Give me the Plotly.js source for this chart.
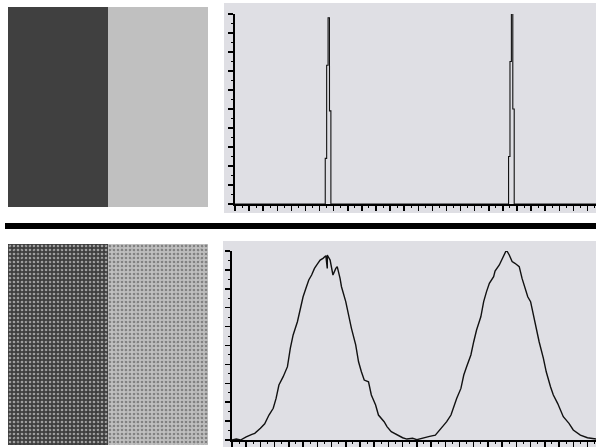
<!DOCTYPE html>
<html>
<head>
<meta charset="utf-8">
<script src="https://cdn.plot.ly/plotly-3.0.1.min.js"></script>
<style>html,body{margin:0;padding:0;background:#fff;}#chart{width:596px;height:447px;}</style>
</head>
<body>
<div id="chart"></div>
<script>
// Image regions (gray level of the two halves)
const imageRegions = [0, 1];
const imageLevels = [64, 192];

// Clean image histogram (gray level bin edges, relative count 0-10)
const cleanLevels = [0, 64, 65, 66, 67, 68, 194, 195, 196, 197, 198, 256];
const cleanCounts = [0, 2.4, 7.3, 9.8, 4.9, 0, 2.5, 7.5, 10.1, 5.0, 0, 0];

// Noisy image histogram (gray level, relative count 0-10)
const noisyLevels = [0, 3, 6, 8, 10, 14, 16, 20, 23, 26, 29, 31, 33, 36, 39, 41, 43, 46, 48, 50, 52, 54, 56, 58, 60, 62, 64, 66, 67, 67, 69, 71, 73, 74, 76, 77, 80, 82, 84, 87, 89, 91, 93, 96, 98, 101, 103, 107, 109, 112, 116, 120, 123, 127, 130, 132, 136, 139, 143, 145, 148, 151, 154, 156, 158, 161, 163, 165, 168, 170, 172, 175, 177, 179, 181, 184, 185, 188, 190, 192, 193, 195, 197, 199, 202, 204, 206, 208, 210, 212, 214, 216, 219, 221, 224, 226, 229, 231, 233, 237, 240, 245, 250, 256];
const noisyCounts = [0, 0.05, 0, 0.09, 0.16, 0.30, 0.35, 0.62, 0.86, 1.32, 1.68, 2.20, 2.91, 3.35, 3.88, 4.85, 5.56, 6.26, 6.97, 7.58, 8.03, 8.47, 8.73, 9.08, 9.30, 9.52, 9.61, 9.75, 9.08, 9.79, 9.52, 8.73, 9.08, 9.17, 8.55, 8.11, 7.32, 6.61, 5.91, 5.03, 4.14, 3.61, 3.17, 3.08, 2.38, 1.85, 1.32, 0.97, 0.71, 0.44, 0.26, 0.12, 0.05, 0.09, 0.02, 0.05, 0.12, 0.19, 0.26, 0.44, 0.71, 0.97, 1.32, 1.76, 2.20, 2.73, 3.44, 3.88, 4.50, 5.20, 5.82, 6.52, 7.32, 7.85, 8.29, 8.64, 8.94, 9.26, 9.61, 9.88, 10.05, 9.79, 9.44, 9.35, 9.17, 8.55, 8.03, 7.58, 7.32, 6.61, 5.82, 5.20, 4.32, 3.61, 2.82, 2.38, 1.94, 1.59, 1.23, 0.88, 0.53, 0.26, 0.12, 0.05];

const W = 596, H = 447;
const fx = p => p / W;
const fy = p => 1 - p / H;
const gray = v => `rgb(${v},${v},${v})`;

const traces = [
  {
    type: 'bar', x: imageRegions, y: [1, 1], width: 1,
    marker: {color: imageLevels.map(gray), line: {width: 0}},
    xaxis: 'x3', yaxis: 'y3', hoverinfo: 'skip'
  },
  {
    type: 'bar', x: imageRegions, y: [1, 1], width: 1,
    marker: {
      color: imageLevels.map(gray), line: {width: 0},
      pattern: {shape: '.', fillmode: 'overlay', size: 4, solidity: 0.35,
        bgcolor: imageLevels.map(v => gray(v - 6)),
        fgcolor: imageLevels.map(v => gray(v + 22))}
    },
    xaxis: 'x4', yaxis: 'y4', hoverinfo: 'skip'
  },
  {
    type: 'bar', x: imageRegions, y: [1, 1], width: 1,
    marker: {
      color: 'rgba(0,0,0,0)', line: {width: 0},
      pattern: {shape: 'x', fillmode: 'replace', size: 7, solidity: 0.15,
        fgcolor: imageLevels.map(v => v < 128 ? 'rgba(20,20,20,0.35)' : 'rgba(120,120,120,0.3)')}
    },
    xaxis: 'x5', yaxis: 'y5', hoverinfo: 'skip'
  },
  {
    type: 'scatter', mode: 'lines', x: cleanLevels, y: cleanCounts,
    line: {shape: 'hv', color: '#111', width: 1.1},
    xaxis: 'x', yaxis: 'y', hoverinfo: 'skip'
  },
  {
    type: 'scatter', mode: 'lines', x: noisyLevels, y: noisyCounts,
    line: {color: '#111', width: 1.4},
    xaxis: 'x2', yaxis: 'y2', hoverinfo: 'skip'
  }
];

const histX = (d) => ({
  domain: d, range: [0, 256], showline: true, linecolor: '#000', linewidth: 2,
  ticks: 'outside', ticklen: 5, tickwidth: 1.5, tickcolor: '#000', dtick: 10, tick0: 0,
  minor: {ticks: 'outside', ticklen: 2, dtick: 5, tickcolor: '#000', tickwidth: 1},
  showticklabels: false, showgrid: false, zeroline: false, fixedrange: true
});
const histY = (d) => ({
  domain: d, range: [0, 10], showline: true, linecolor: '#000', linewidth: 2,
  ticks: 'outside', ticklen: 5, tickwidth: 1.5, tickcolor: '#000', dtick: 1, tick0: 0,
  minor: {ticks: 'outside', ticklen: 2, dtick: 0.5, tickcolor: '#000', tickwidth: 1},
  showticklabels: false, showgrid: false, zeroline: false, fixedrange: true
});
const imgAxis = (d, r) => ({
  domain: d, range: r, showline: false, showticklabels: false, ticks: '',
  showgrid: false, zeroline: false, fixedrange: true
});

const layout = {
  width: W, height: H,
  margin: {l: 0, r: 0, t: 0, b: 0, pad: 0},
  paper_bgcolor: '#ffffff', plot_bgcolor: 'rgba(0,0,0,0)',
  showlegend: false, bargap: 0,
  xaxis: histX([fx(235), 1]),
  yaxis: Object.assign(histY([fy(204), fy(14)]), {anchor: 'x'}),
  xaxis2: Object.assign(histX([fx(232), 1]), {anchor: 'y2'}),
  yaxis2: Object.assign(histY([fy(440), fy(251)]), {anchor: 'x2'}),
  xaxis3: Object.assign(imgAxis([fx(8), fx(208)], [-0.5, 1.5]), {anchor: 'y3'}),
  yaxis3: Object.assign(imgAxis([fy(207), fy(7)], [0, 1]), {anchor: 'x3'}),
  xaxis4: Object.assign(imgAxis([fx(8), fx(208)], [-0.5, 1.5]), {anchor: 'y4'}),
  yaxis4: Object.assign(imgAxis([fy(445), fy(244)], [0, 1]), {anchor: 'x4'}),
  xaxis5: Object.assign(imgAxis([fx(8), fx(208)], [-0.5, 1.5]), {anchor: 'y5'}),
  yaxis5: Object.assign(imgAxis([fy(445), fy(244)], [0, 1]), {anchor: 'x5'}),
  shapes: [
    {type: 'rect', xref: 'paper', yref: 'paper', layer: 'below',
     x0: fx(224), x1: 1, y0: fy(213), y1: fy(3), fillcolor: '#dfdfe4', line: {width: 0}},
    {type: 'rect', xref: 'paper', yref: 'paper', layer: 'below',
     x0: fx(223), x1: 1, y0: 0, y1: fy(241), fillcolor: '#dfdfe4', line: {width: 0}},
    {type: 'rect', xref: 'paper', yref: 'paper', layer: 'above',
     x0: fx(5), x1: 1, y0: fy(229), y1: fy(223), fillcolor: '#000000', line: {width: 0}}
  ]
};

Plotly.newPlot('chart', traces, layout, {staticPlot: true, displayModeBar: false});
</script>
</body>
</html>
